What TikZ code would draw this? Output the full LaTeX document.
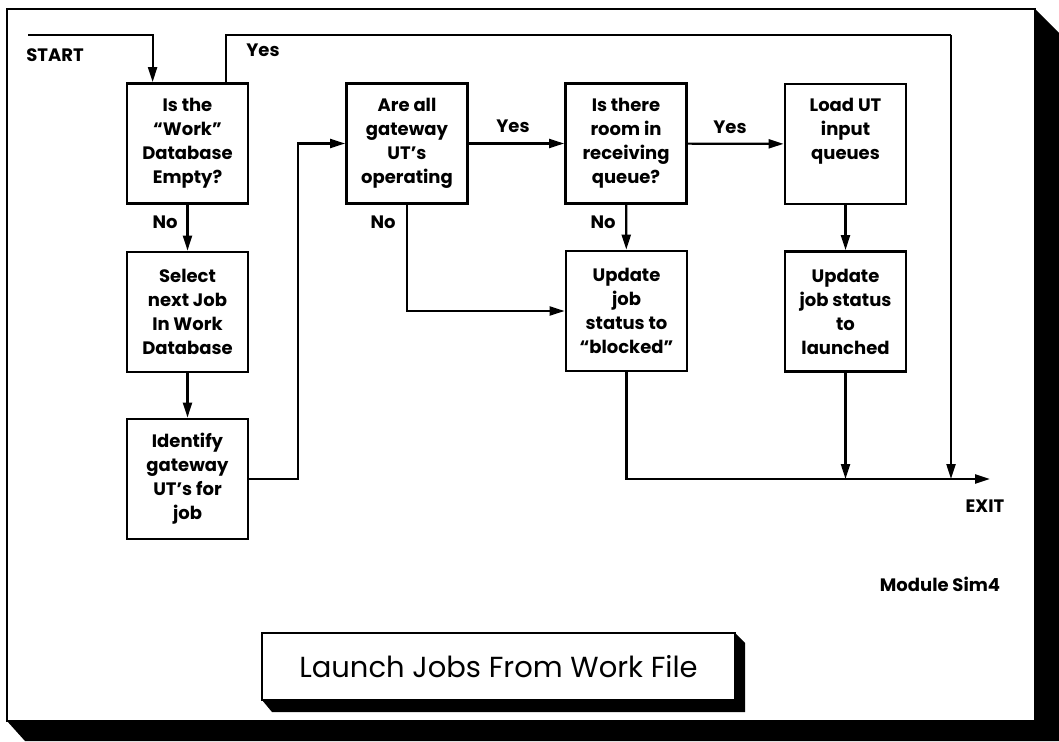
\documentclass[tikz,border=0pt]{standalone}
\usepackage{fontspec}
\setmainfont{Poppins}
\usetikzlibrary{arrows.meta,calc}
\begin{document}
\begin{tikzpicture}[x=1pt,y=-1pt,
  stepbox/.style={draw,line width=2.8pt,minimum width=121pt,minimum height=120pt,
    inner sep=0pt,align=center,font=\fontsize{18}{24}\selectfont\bfseries},
  flow/.style={line width=2.2pt,-{Triangle[length=15pt,width=9pt]}},
  wire/.style={line width=2.2pt},
  lbl/.style={font=\fontsize{18}{20}\selectfont\bfseries,inner sep=0pt}]
\useasboundingbox (0,0) rectangle (1059,741);
% page frame with its drop shadow
\fill[black] (1035,9) -- (1059,33) -- (1059,741) -- (25,741) -- (7,721) -- cycle;
\draw[line width=2.4pt,fill=white] (7,9) rectangle (1035,721);

% process boxes
\node[stepbox] (b1) at (187.5,143.5) {Is the\\``Work''\\Database\\Empty?};
\node[stepbox] (b2) at (187.5,312) {Select\\next Job\\In Work\\Database};
\node[stepbox] (b3) at (187.5,479) {Identify\\gateway\\UT's for\\job};
\node[stepbox] (b4) at (407,143.5) {Are all\\gateway\\UT's\\operating};
\node[stepbox] (b5) at (626,143.5) {Is there\\room in\\receiving\\queue?};
\node[stepbox] (b6) at (626.5,311) {Update\\job\\status to\\``blocked''};
\node[stepbox] (b7) at (845.5,144) {Load UT\\input\\queues\\ \strut};
\node[stepbox] (b8) at (845.5,311.5) {Update\\job status\\to\\launched};

% entry and exit points
\coordinate (start) at (28,35);
\coordinate (exit) at (990,479);
\coordinate (yesturn) at (951,35);
\coordinate (join) at (298,479);
\coordinate (loopin) at ($(b1.north west)+(27,0)$);
\coordinate (loopout) at ($(b1.north west)+(100,0)$);

% connectors
\draw[flow] (start) -| (loopin);
\draw[wire] (loopout) |- (yesturn);
\draw[flow] (yesturn) -- (yesturn |- exit);
\draw[flow] (b1) -- (b2);
\draw[flow] (b2) -- (b3);
\draw[flow] (b3.east) -- (join) |- (b4.west);
\draw[flow] (b4) -- (b5);
\draw[flow] (b5) -- (b7);
\draw[flow] (b4.south) |- (b6.west);
\draw[flow] (b5) -- (b6);
\draw[flow] (b7) -- (b8);
\draw[flow] (b8.south) -- (b8.south |- exit);
\draw[flow] (b6.south) |- (exit);

% labels
\node[lbl] (tstart) at (55,55) {START};
\node[lbl] (tyes1) at (263,50) {Yes};
\node[lbl] (tno1) at (165,222) {No};
\node[lbl] (tyes2) at (513,126) {Yes};
\node[lbl] (tno2) at (383,222) {No};
\node[lbl] (tno3) at (603,222) {No};
\node[lbl] (tyes3) at (730,127) {Yes};
\node[lbl] (texit) at (985,506) {EXIT};
\node[lbl] (tmod) at (940,584) {Module Sim4};

% title plate with its shadow
\fill[black] (735,633) -- (745,643) -- (745,712) -- (272,712) -- (262,700) -- cycle;
\node[draw,line width=2.4pt,fill=white,minimum width=473pt,minimum height=67pt,
  inner sep=0pt,font=\fontsize{29}{32}\selectfont] (title) at (498.5,666.5)
  {Launch Jobs From Work File};
\end{tikzpicture}
\end{document}
